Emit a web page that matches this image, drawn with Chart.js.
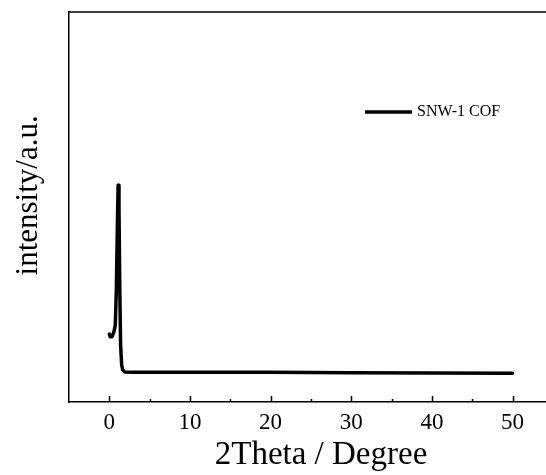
<!DOCTYPE html>
<html>
<head>
<meta charset="utf-8">
<script src="https://cdn.jsdelivr.net/npm/chart.js@4.4.1/dist/chart.umd.min.js"></script>
<style>
  html, body { margin: 0; padding: 0; background: #fff; overflow: hidden; }
  #clip { width: 546px; height: 475px; overflow: hidden; }
  /* plot frame runs past the right edge, as in the cropped original */
  #wrap { width: 573px; height: 475px; }
</style>
</head>
<body>
<div id="clip"><div id="wrap"><canvas id="xrdChart"></canvas></div></div>
<script>
// XRD pattern, values
const seriesLabel = 'SNW-1 COF';
const twoTheta = [0.0, 0.12, 0.31, 0.56, 0.74, 0.87, 0.99, 1.09, 1.20, 1.30, 1.40, 1.53, 1.67, 1.92, 3, 10, 20, 30, 40, 50];
const intensity = [174, 167, 167, 179, 197, 287, 441, 556, 492, 287, 146, 95, 82, 77, 76, 76, 76, 75, 74.5, 74];
const majorTicks = [0, 10, 20, 30, 40, 50];
const minorTicks = [5, 15, 25, 35, 45];

const serif = '"Liberation Serif", "Times New Roman", serif';

// inward tick marks + top frame line
const frameTicks = {
    id: 'frameTicks',
    afterDraw(chart) {
        const c = chart.ctx;
        const area = chart.chartArea;
        const xs = chart.scales.x;
        c.save();
        c.strokeStyle = '#000';
        c.lineWidth = 1.5;
        c.beginPath();
        c.moveTo(area.left, area.top);
        c.lineTo(area.right, area.top);
        majorTicks.forEach(v => {
            const px = Math.round(xs.getPixelForValue(v)) + 0.5;
            c.moveTo(px, area.bottom);
            c.lineTo(px, area.bottom - 6);
        });
        minorTicks.forEach(v => {
            const px = Math.round(xs.getPixelForValue(v)) + 0.5;
            c.moveTo(px, area.bottom);
            c.lineTo(px, area.bottom - 3);
        });
        c.stroke();
        c.restore();
    }
};

// legend inside plot area
const insideLegend = {
    id: 'insideLegend',
    afterDraw(chart) {
        const c = chart.ctx;
        const ds = chart.data.datasets[0];
        c.save();
        c.strokeStyle = ds.borderColor;
        c.lineWidth = 3.5;
        c.beginPath();
        c.moveTo(365, 112);
        c.lineTo(412, 112);
        c.stroke();
        c.fillStyle = '#000';
        c.font = '16px ' + serif;
        c.textBaseline = 'middle';
        c.fillText(ds.label, 417, 112);
        c.restore();
    }
};

new Chart(document.getElementById('xrdChart'), {
    type: 'line',
    data: {
        datasets: [{
            label: seriesLabel,
            data: twoTheta.map((t, i) => ({ x: t, y: intensity[i] })),
            borderColor: '#000',
            borderWidth: 3.5,
            pointRadius: 0,
            tension: 0,
            borderJoinStyle: 'round',
            borderCapStyle: 'round'
        }]
    },
    options: {
        responsive: true,
        maintainAspectRatio: false,
        animation: false,
        layout: { padding: { top: 12, left: 0, right: 0, bottom: 0 } },
        plugins: {
            legend: { display: false },
            tooltip: { enabled: false }
        },
        scales: {
            x: {
                type: 'linear',
                min: -5,
                max: 57.5,
                afterBuildTicks: s => { s.ticks = majorTicks.map(v => ({ value: v })); },
                afterFit: s => { s.height = 73; },
                grid: { display: false, drawTicks: false },
                border: { display: true, color: '#000', width: 1.5 },
                ticks: {
                    color: '#000',
                    padding: 9,
                    maxRotation: 0,
                    font: { family: serif, size: 23, lineHeight: 1 }
                },
                title: {
                    display: true,
                    text: '2Theta / Degree',
                    color: '#000',
                    font: { family: serif, size: 33, lineHeight: 1 },
                    padding: { top: 0, bottom: 3 }
                }
            },
            y: {
                min: 0,
                max: 1000,
                afterFit: s => { s.width = 69; },
                grid: { display: false, drawTicks: false },
                border: { display: true, color: '#000', width: 1.5 },
                ticks: { display: false },
                title: {
                    display: true,
                    text: '   intensity/a.u.',
                    color: '#000',
                    font: { family: serif, size: 31, lineHeight: 1 },
                    padding: { top: 13, bottom: 0 }
                }
            }
        }
    },
    plugins: [frameTicks, insideLegend]
});
</script>
</body>
</html>
